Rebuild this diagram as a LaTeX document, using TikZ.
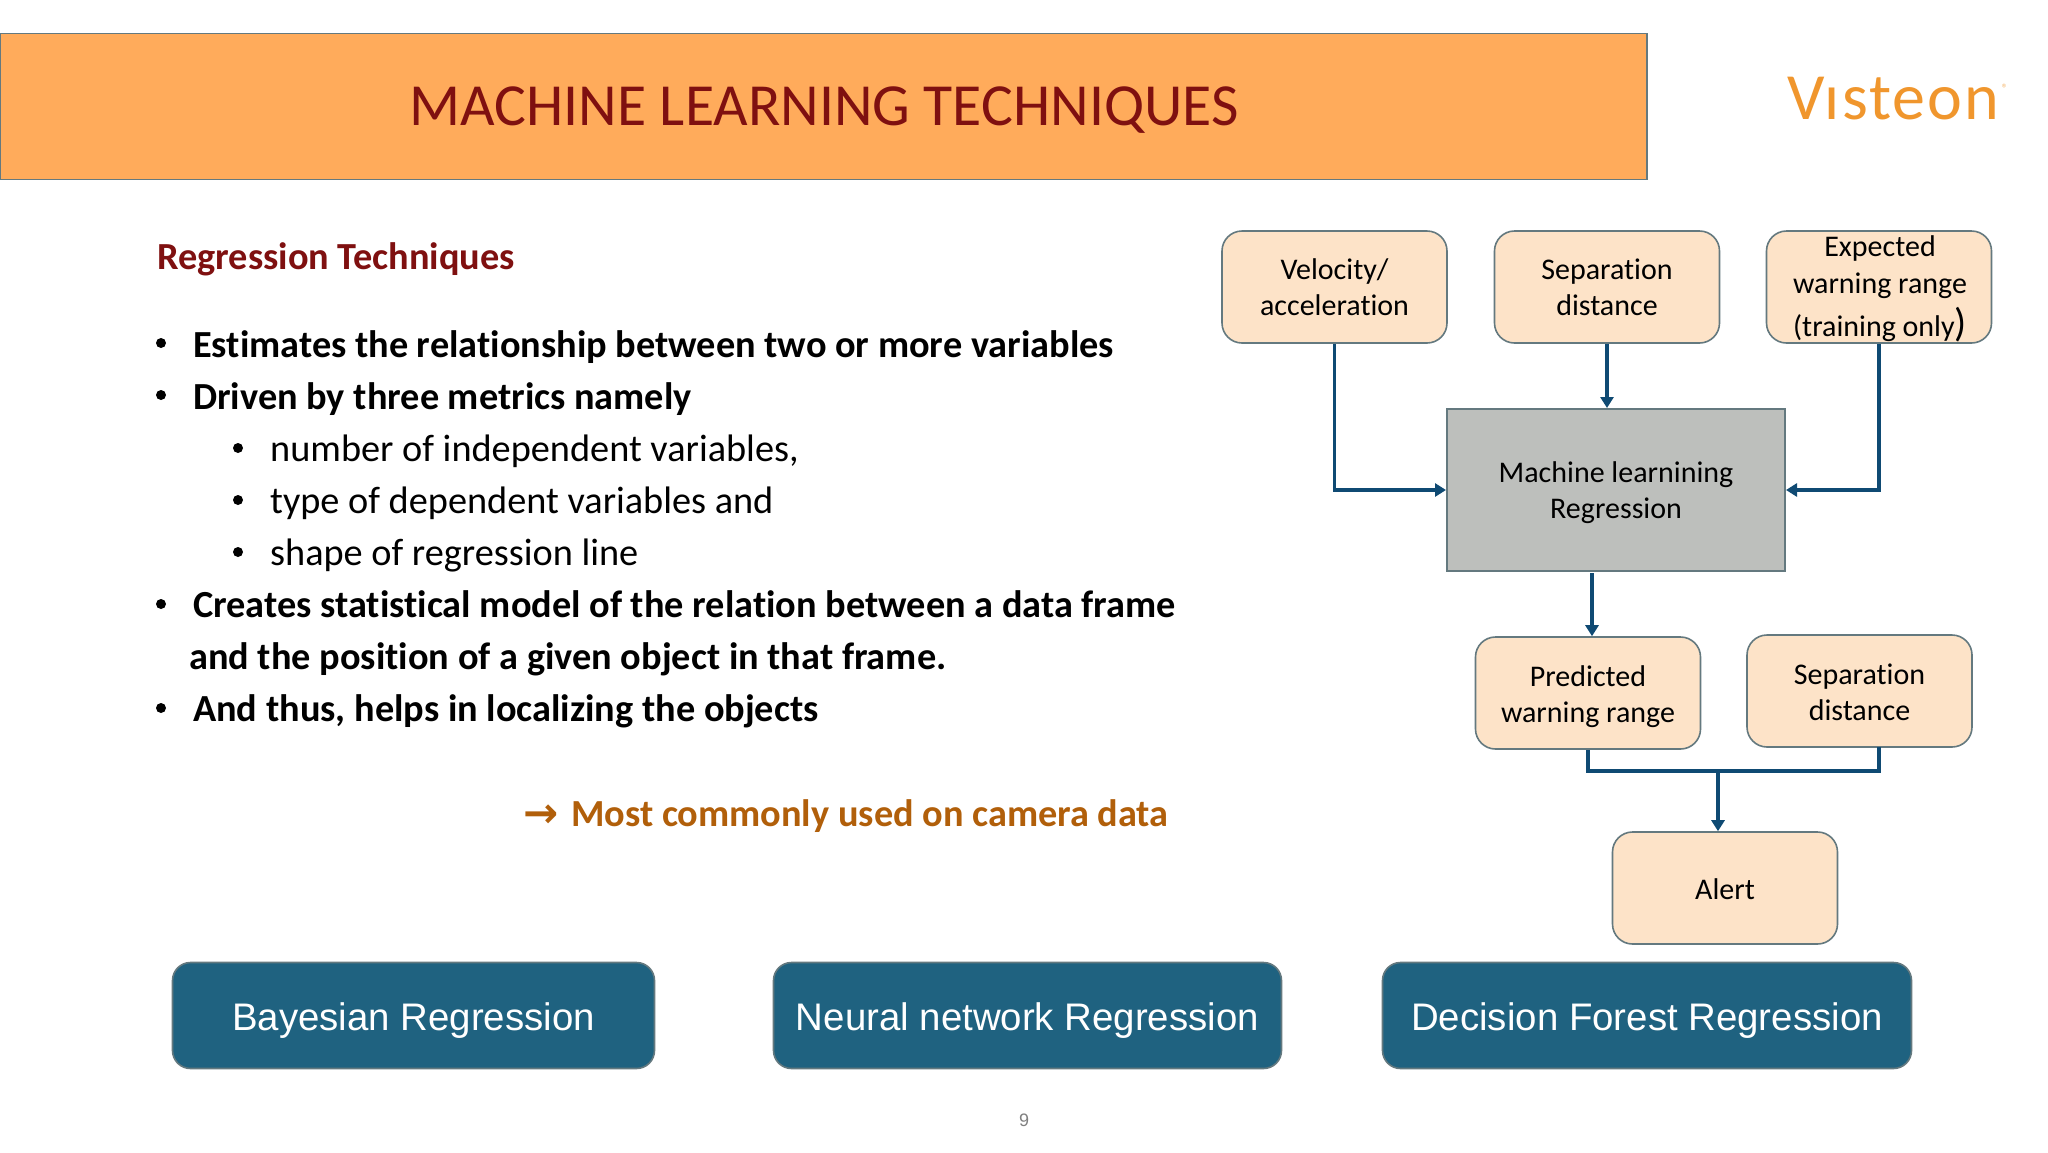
\documentclass[tikz,border=0pt]{standalone}
\usepackage{fontspec}
\setmainfont{Carlito}[RawFeature={-liga;-clig}]
\newfontfamily\logofont{Carlito}[RawFeature={-liga;-clig},LetterSpace=3]
\newfontfamily\arialfont{Liberation Sans}
\newfontfamily\symfont{DejaVu Sans}
\usetikzlibrary{arrows.meta}
\definecolor{linkblue}{HTML}{0F4A73}
\definecolor{peach}{HTML}{FDE3C8}
\definecolor{edgegray}{HTML}{64797F}
\definecolor{banner}{HTML}{FFAB5B}
\definecolor{darkred}{HTML}{7F1010}
\definecolor{teal}{HTML}{1F6280}
\definecolor{umber}{HTML}{B15F0A}
\definecolor{logo}{HTML}{F0962D}
\definecolor{mlgray}{HTML}{BDBFBC}
\tikzset{
  x=1pt,y=-1pt,
  peachbox/.style={draw=edgegray,line width=1.6pt,fill=peach,rounded corners=20pt,minimum width=225pt,minimum height=112pt,inner sep=0pt,align=center,font=\fontsize{30}{35.5}\selectfont,text=black,text height=64pt,text depth=8pt},
  mlbox/.style={draw=edgegray,line width=2pt,fill=mlgray,minimum width=338pt,minimum height=162pt,inner sep=0pt,align=center,font=\fontsize{30}{35.5}\selectfont,text height=64pt,text depth=8pt},
  bluebtn/.style={draw=edgegray,line width=1.6pt,fill=teal,rounded corners=18pt,minimum height=106pt,inner sep=0pt,text=white,font=\arialfont\fontsize{38.4}{46}\selectfont,text height=38pt,text depth=8pt},
  link/.style={draw=linkblue,line width=3.4pt},
  linkarrow/.style={link,-{Triangle[length=11pt,width=13pt]}},
  txt/.style={anchor=base west,inner sep=0pt,font=\fontsize{38.3}{44}\selectfont},
  btxt/.style={txt,font=\fontsize{38.3}{44}\selectfont\bfseries},
  dotmark/.style={circle,fill=black,inner sep=0pt,minimum size=10pt},
}
\begin{document}
\begin{tikzpicture}
\useasboundingbox (0,0) rectangle (2048,1152);
\fill[white] (0,0) rectangle (2048,1152);
% banner
\node[draw=edgegray,line width=1.6pt,fill=banner,minimum width=1647pt,minimum height=146pt,inner sep=0pt,anchor=north west] (banner) at (-1,32.5) {};
\node[inner sep=0pt,text=darkred,font=\fontsize{59.7}{64}\selectfont] (title) at (824,110) {MACHINE LEARNING TECHNIQUES};
\node[anchor=base west,inner sep=0pt,text=logo,font=\logofont\fontsize{66}{70}\selectfont] (logotext) at (1787,119) {Vısteon};
\node[anchor=center,inner sep=0pt,text=logo!70,font=\fontsize{12}{12}\selectfont] (logoreg) at (2005,88) {®};
% left text
\node[btxt,text=darkred] (head) at (157,269.5) {Regression Techniques};
\node[dotmark] (b1) at (161,343) {};
\node[btxt] (t1) at (193,357) {Estimates the relationship between two or more variables};
\node[dotmark] (b2) at (161,395) {};
\node[btxt] (t2) at (193,409) {Driven by three metrics namely};
\node[dotmark] (b3) at (238,448) {};
\node[txt] (t3) at (270,461) {number of independent variables,};
\node[dotmark] (b4) at (238,500) {};
\node[txt] (t4) at (270,513) {type of dependent variables and};
\node[dotmark] (b5) at (238,552) {};
\node[txt] (t5) at (270,565) {shape of regression line};
\node[dotmark] (b6) at (161,604) {};
\node[btxt] (t6) at (193,617.5) {Creates statistical model of the relation between a data frame};
\node[btxt] (t7) at (189,669.5) {and the position of a given object in that frame.};
\node[dotmark] (b8) at (161,708) {};
\node[btxt] (t8) at (193,721.5) {And thus, helps in localizing the objects};
\node[anchor=base west,inner sep=0pt,text=umber,font=\symfont\bfseries\fontsize{42}{44}\selectfont] (arr) at (523,827) {→};
\node[btxt,text=umber] (t9) at (571,826) {Most commonly used on camera data};
% flow boxes
\node[peachbox] (vel) at (1334.5,287) {Velocity/\\acceleration};
\node[peachbox] (sep) at (1607,287) {Separation\\distance};
\node[draw=edgegray,line width=1.6pt,fill=peach,rounded corners=20pt,minimum width=225pt,minimum height=112pt,inner sep=0pt] (exp) at (1879,287) {};
\node[anchor=base,inner sep=0pt,font=\fontsize{30}{35}\selectfont] (exp1) at (1880,256) {Expected};
\node[anchor=base,inner sep=0pt,font=\fontsize{30}{35}\selectfont] (exp2) at (1880,293) {warning range};
\node[anchor=base,inner sep=0pt,font=\fontsize{30}{35}\selectfont] (exp3) at (1880,336) {(training only{\fontsize{40}{40}\selectfont)}};
\node[mlbox] (ml) at (1616,490) {Machine learnining\\Regression};
\node[peachbox,text height=66pt] (pred) at (1588,693) {Predicted\\warning range};
\node[peachbox,text height=66pt] (sep2) at (1859.5,691) {Separation\\distance};
\node[peachbox,text height=27pt,text depth=5pt] (alert) at (1725,888) {Alert};
% connectors
\coordinate (mlout) at (1592,573);
\coordinate (sep2out) at (1879,747);
\coordinate (join) at (1718,771);
\draw[linkarrow] (vel.south) |- (ml.west);
\draw[linkarrow] (sep.south) -- (sep.south |- ml.north);
\draw[linkarrow] (exp.south) |- (ml.east);
\draw[linkarrow] (mlout) -- (mlout |- pred.north);
\draw[link] (pred.south) |- (join) -| (sep2out);
\draw[linkarrow] (join) -- (join |- alert.north);
% bottom buttons
\node[bluebtn,minimum width=482pt] (bay) at (413.5,1015.5) {Bayesian Regression};
\node[bluebtn,minimum width=508pt] (nn) at (1027.5,1015.5) {Neural network Regression};
\node[bluebtn,minimum width=529pt] (df) at (1647,1015.5) {Decision Forest Regression};
\node[inner sep=0pt,text=gray,font=\arialfont\fontsize{18}{20}\selectfont] (page) at (1024,1120) {9};
\end{tikzpicture}
\end{document}
